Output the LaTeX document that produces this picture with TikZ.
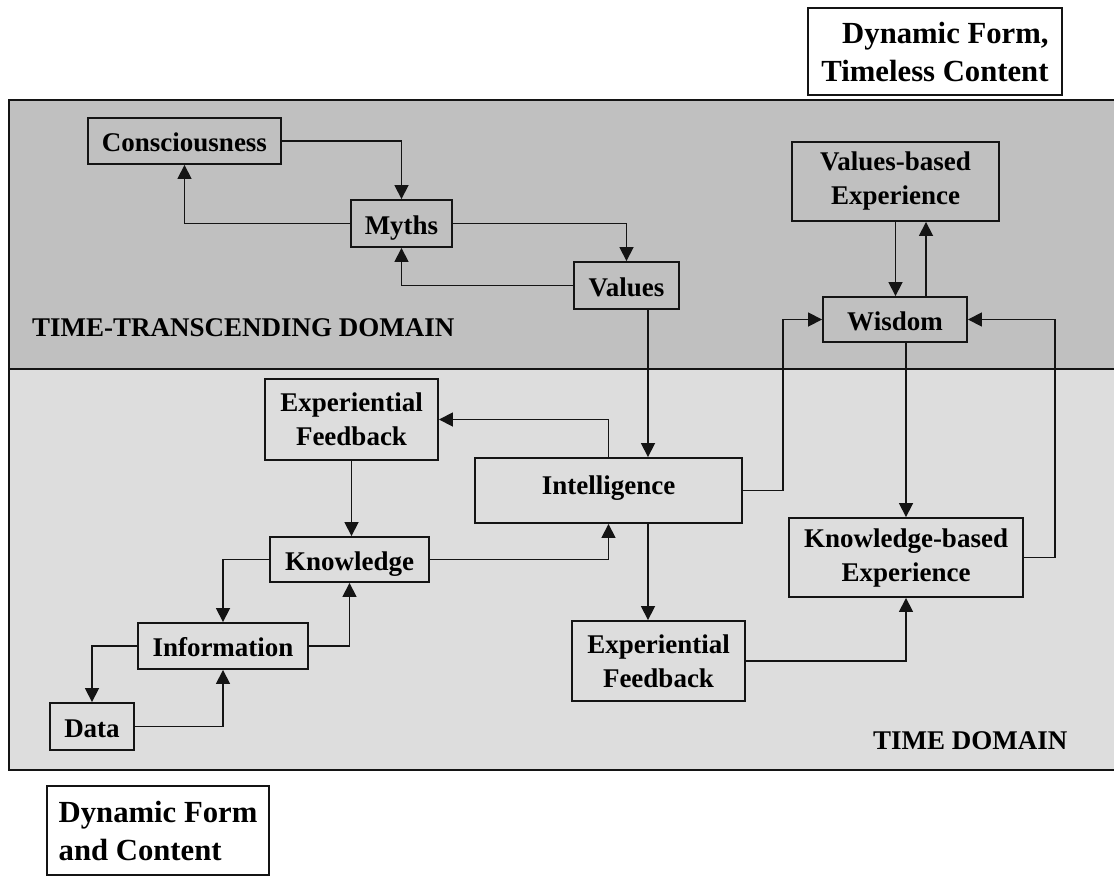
\documentclass[tikz,border=0pt]{standalone}
\usepackage{fontspec}
\setmainfont{Liberation Serif}
\usetikzlibrary{arrows.meta}
\definecolor{upperbg}{HTML}{C0C0C0}
\definecolor{lowerbg}{HTML}{DDDDDD}
\definecolor{ink}{HTML}{141414}
\begin{document}
\begin{tikzpicture}[x=1pt,y=-1pt,
  box/.style={draw=ink, line width=1.9pt, inner sep=0pt,
    font=\fontsize{27}{34}\selectfont\bfseries, align=center},
  one/.style={box, text height=21pt, text depth=0pt},
  corner/.style={draw=ink, line width=1.9pt, fill=white, inner ysep=0pt,
    font=\fontsize{30.7}{38}\selectfont\bfseries},
  link/.style={draw=ink, line width=1.7pt, -{Triangle[length=14pt,width=14pt]}},
  domainlabel/.style={font=\fontsize{27}{34}\selectfont\bfseries, inner sep=0pt, anchor=base west},
]
\useasboundingbox[fill=white] (0,0) rectangle (1114,879);

% the two domains
\fill[upperbg] (9,100) rectangle (1114,369);
\fill[lowerbg] (9,369) rectangle (1114,770);
\draw[ink, line width=2pt] (1114,100) -- (9,100) -- (9,770) -- (1114,770);
\draw[ink, line width=2pt] (9,369) -- (1114,369);

\node[domainlabel] (ttd) at (32,336) {TIME-TRANSCENDING DOMAIN};
\node[domainlabel] (td) at (873,749) {TIME DOMAIN};

% corner captions
\node[corner, minimum width=254pt, minimum height=87pt, align=right, inner xsep=13pt]
  (formtop) at (935,51.5) {Dynamic Form,\\Timeless Content};
\node[corner, minimum width=222pt, minimum height=89pt, align=left, inner xsep=11pt]
  (formbot) at (158,830.5) {Dynamic Form\\and Content};

% time-transcending domain
\node[one, minimum width=193pt, minimum height=46pt] (cons) at (184.5,141) {Consciousness};
\node[one, minimum width=101pt, minimum height=47pt] (myths) at (401.5,223.5) {Myths};
\node[one, minimum width=105pt, minimum height=47pt] (values) at (626.5,285.5) {Values};
\node[box, minimum width=207pt, minimum height=79pt] (vbe) at (895.5,181.5) {Values-based\\Experience};
\node[one, minimum width=144pt, minimum height=45pt] (wisdom) at (895,319.5) {Wisdom};

% time domain
\node[box, minimum width=173pt, minimum height=81pt] (efl) at (351.5,419.5) {Experiential\\Feedback};
\node[one, minimum width=159pt, minimum height=45pt] (know) at (349.5,559.5) {Knowledge};
\node[one, minimum width=170pt, minimum height=46pt] (info) at (223,646) {Information};
\node[one, minimum width=84pt, minimum height=47pt] (data) at (92,726.5) {Data};
\node[box, text height=21pt, text depth=14pt, minimum width=267pt, minimum height=65pt] (intel) at (608.5,490.5) {Intelligence};
\node[box, minimum width=234pt, minimum height=79pt] (kbe) at (906,557.5) {Knowledge-based\\Experience};
\node[box, minimum width=173pt, minimum height=80pt] (efr) at (658.5,661) {Experiential\\Feedback};

% connectors
\draw[link] (cons) -| (myths);
\draw[link] (myths) -| (cons);
\draw[link] (myths) -| (values);
\draw[link] (values) -| (myths);
\draw[link] ([xshift=21.5pt]values.south) -- ([xshift=21.5pt]values.south |- intel.north);
\draw[link] (intel.north) |- (efl.east);
\draw[link] (efl.south) -- (efl.south |- know.north);
\draw[link] (know) -| (info);
\draw[link] (know) -| (intel);
\draw[link] (info) -| (data);
\draw[link] (info) -| (know);
\draw[link] (data) -| (info);
\draw[link] ([xshift=39.5pt]intel.south) -- ([xshift=39.5pt]intel.south |- efr.north);
\draw[link] (efr) -| (kbe);
\draw[link] (intel.east) -- ++(40,0) |- (wisdom.west);
\draw[link] (kbe.north |- wisdom.south) -- (kbe.north);
\draw[link] (kbe.east) -- ++(31,0) |- (wisdom.east);
\draw[link] (vbe.south) -- (vbe.south |- wisdom.north);
\draw[link] ([xshift=31pt]wisdom.north) -- ([xshift=31pt]wisdom.north |- vbe.south);
\end{tikzpicture}
\end{document}
